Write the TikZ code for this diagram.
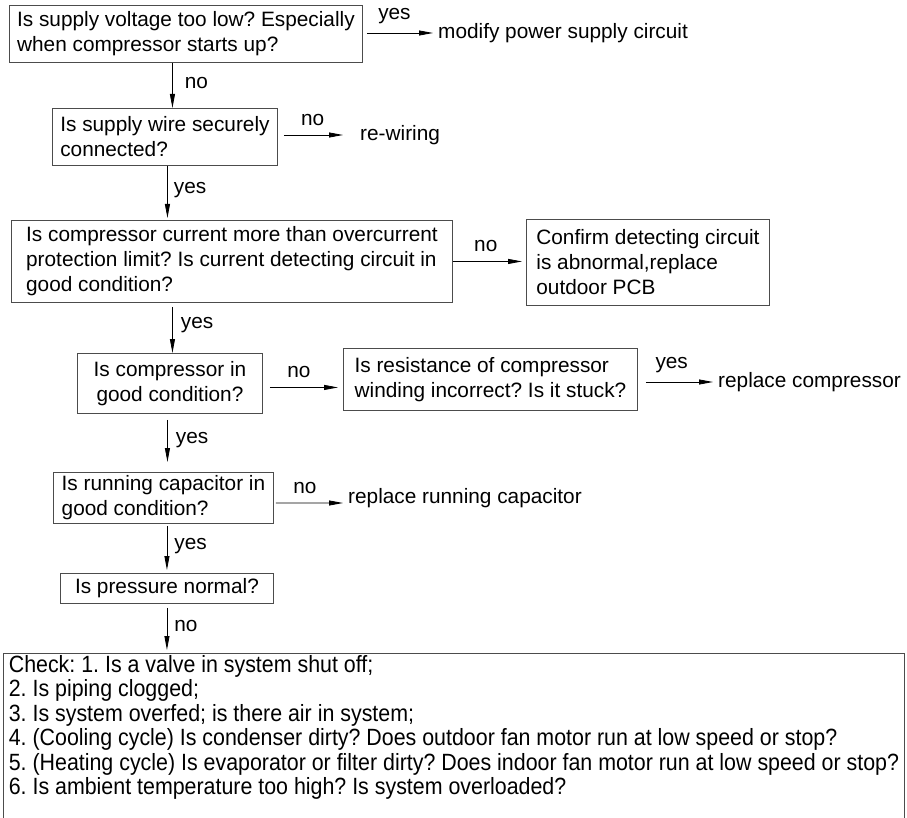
\documentclass[tikz,border=0pt]{standalone}
\usepackage{fontspec}
\setmainfont{Liberation Sans}
\newfontfamily\narrowfont[FakeStretch=0.91]{Liberation Sans}
\usetikzlibrary{arrows.meta,positioning}
\definecolor{boxgray}{gray}{0.3}

\begin{document}
\frenchspacing
\begin{tikzpicture}[x=1pt,y=-1pt,
  every node/.style={font=\fontsize{20.8}{25}\selectfont},
  qbox/.style={draw=boxgray,line width=0.9pt,anchor=north west,align=left,inner xsep=4pt},
  cbox/.style={qbox,align=center},
  ans/.style={anchor=west,inner xsep=5pt},
  arr/.style={line width=0.8pt,-{Triangle[length=14pt,width=5pt]}},
  lab/.style={inner sep=2pt,pos=0.45}]
  \useasboundingbox (0,0) rectangle (907,818);

  \node[qbox,minimum width=353pt,minimum height=57pt] (q1) at (9,5)
    {Is supply voltage too low? Especially\\when compressor starts up?};
  \node[ans] (r1) at (433,33) {modify power supply circuit};
  \node[qbox,minimum width=225pt,minimum height=57pt] (q2) at (52,108)
    {Is supply wire securely\\connected?};
  \node[ans] (r2) at (355,135) {re-wiring};
  \node[qbox,minimum width=441pt,minimum height=82pt] (q3) at (11,220)
    {Is compressor current more than overcurrent\\protection limit? Is current detecting circuit in\\good condition?};
  \node[qbox,minimum width=243pt,minimum height=86pt] (q4) at (526,219)
    {Confirm detecting circuit\\is abnormal,replace\\outdoor PCB};
  \node[cbox,minimum width=185pt,minimum height=60pt] (q5) at (77,353)
    {Is compressor in\\good condition?};
  \node[qbox,minimum width=294pt,minimum height=62pt] (q6) at (343,348)
    {Is resistance of compressor\\winding incorrect? Is it stuck?};
  \node[ans] (r4) at (713,382) {replace compressor};
  \node[qbox,minimum width=220pt,minimum height=51pt] (q7) at (53,472)
    {Is running capacitor in\\good condition?};
  \node[ans] (r5) at (343,498) {replace running capacitor};
  \node[cbox,minimum width=213pt,minimum height=30pt] (q8) at (60,573)
    {Is pressure normal?};
  \node[qbox,font=\narrowfont\fontsize{23.5}{24.4}\selectfont,minimum width=901pt,
    inner ysep=2pt,text depth=50pt] (q9) at (3,653)
    {Check: 1. Is a valve in system shut off;\\
     2. Is piping clogged;\\
     3. Is system overfed; is there air in system;\\
     4. (Cooling cycle) Is condenser dirty? Does outdoor fan motor run at low speed or stop?\\
     5. (Heating cycle) Is evaporator or filter dirty? Does indoor fan motor run at low speed or stop?\\
     6. Is ambient temperature too high? Is system overloaded?};

  \draw[arr,shorten <=4pt] (r1.west -| q1.east) -- (r1.west)
    node[lab,above=7pt] {yes};
  \draw[arr] ([xshift=-13.5pt]q1.south) -- ([xshift=7.5pt]q2.north)
    node[lab,right=10pt] {no};
  \draw[arr,shorten <=6pt,shorten >=12pt] (r2.west -| q2.east) -- (r2.west)
    node[lab,above=7pt] {no};
  \draw[arr,shorten >=2pt] ([xshift=2.5pt]q2.south) -- ([xshift=-64.5pt]q3.north)
    node[lab,right=4pt] {yes};
  \draw[arr,shorten >=4pt] (q3.east) -- (q3.east -| q4.west)
    node[lab,above=7pt] {no};
  \draw[arr,shorten <=4pt] ([xshift=-59.5pt]q3.south) -- ([xshift=2.5pt]q5.north)
    node[lab,right=6pt] {yes};
  \draw[arr,shorten <=7pt,shorten >=5pt] ([yshift=-4pt]q5.east) -- ([yshift=-8pt]q6.west)
    node[lab,above=7pt] {no};
  \draw[arr,shorten <=8pt] (r4.west -| q6.east) -- (r4.west)
    node[lab,above=7pt] {yes};
  \draw[arr,shorten <=6pt,shorten >=10pt] ([xshift=-2.5pt]q5.south) -- ([xshift=4pt]q7.north)
    node[lab,right=6pt] {yes};
  \draw[arr,shorten <=2pt] ([yshift=-5pt]q7.east) -- ([yshift=-5pt]r5.west)
    node[lab,above=7pt] {no};
  \draw[arr,shorten <=2pt,shorten >=3pt] ([xshift=3.5pt]q7.south) -- (q8.north)
    node[lab,right=5pt] {yes};
  \draw[arr,shorten <=4pt,shorten >=3pt] (q8.south) -- (q8.south |- q9.north)
    node[lab,right=5pt] {no};
\end{tikzpicture}
\end{document}
